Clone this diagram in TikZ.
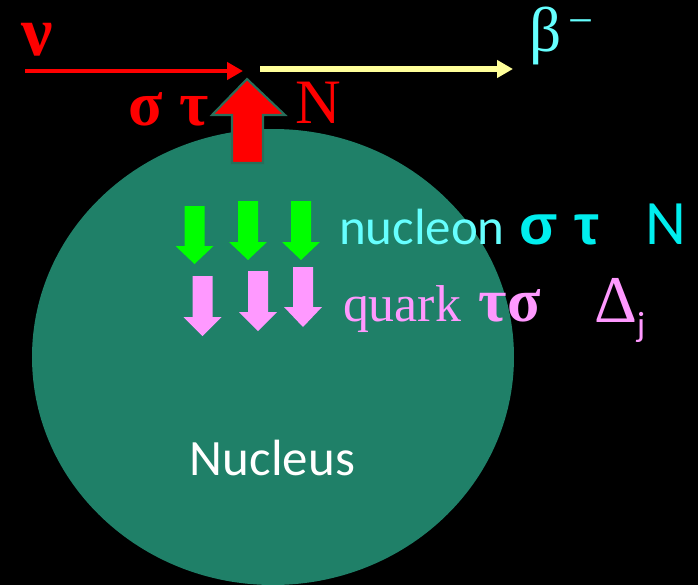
\documentclass[tikz,border=0pt]{standalone}
\usepackage{fontspec}
\setmainfont{Carlito}
\newfontfamily\timesgr{Liberation Serif}
\newfontfamily\arialgr{Liberation Sans}
\usepackage{xcolor}
\usepackage{tikz}
\usetikzlibrary{arrows.meta, positioning}

\definecolor{nucleusgreen}{RGB}{31,128,104}
\definecolor{rimgreen}{RGB}{40,110,90}
\definecolor{betayellow}{RGB}{255,255,153}
\definecolor{lightcyan}{RGB}{102,255,255}
\definecolor{deepcyan}{RGB}{0,238,238}
\definecolor{quarkpink}{RGB}{255,153,255}
\definecolor{spingreen}{RGB}{0,255,0}

\tikzset{
	lbl/.style={inner sep=0pt, outer sep=0pt, anchor=base west},
	nuline/.style={red, line width=2.8pt, -{Triangle[length=9pt, width=9.6pt]}},
	betaline/.style={betayellow, line width=3.4pt, -{Triangle[length=9pt, width=9.6pt]}}
}

% down block arrow: colour, centre x, top y, head y, tip y
\newcommand{\spindown}[5]{%
	\fill[#1] ({#2-10},#3) -- ({#2+10},#3) -- ({#2+10},#4) -- ({#2+19},#4) -- (#2,#5)
		-- ({#2-19},#4) -- ({#2-10},#4) -- cycle;}

\begin{document}
\begin{tikzpicture}[x=0.02cm, y=-0.02cm]
		% Background and nucleus:
		\fill[black] (0,0) rectangle (698,585);
		\useasboundingbox (0,0) rectangle (698,585);
		\fill[nucleusgreen] (273,357) ellipse [x radius=241, y radius=228];
		\node[lbl, white] (nucleus) at (190,475){\fontsize{29}{33}\selectfont Nucleus};

		% Incoming neutrino and outgoing electron:
		\coordinate (nu-start) at (25,71);
		\coordinate (vertex-in) at (243,71);
		\coordinate (beta-start) at (260,69);
		\coordinate (beta-end) at (513,69);
		\draw[nuline] (nu-start) -- (vertex-in);
		\draw[betaline] (beta-start) -- (beta-end);
		\node[lbl, red] (nu) at (22,55){\fontsize{40}{44}\selectfont\timesgr\bfseries ν};
		\node[lbl, lightcyan] (beta) at (529,51){\fontsize{36}{40}\selectfont\timesgr β\textsuperscript{\,−}};

		% Transfer to the nucleus:
		\filldraw[fill=red, draw=rimgreen, line width=1.2pt] (232,163) -- (232,115) -- (212,115)
			-- (247,79) -- (285,115) -- (263,115) -- (263,163) -- cycle;
		\node[lbl, red] (st-red) at (129,125){\fontsize{36}{40}\selectfont\timesgr\bfseries σ τ};
		\node[lbl, red] (n-red) at (296,123){\fontsize{36}{40}\selectfont\timesgr N};

		% Nucleon spins:
		\spindown{spingreen}{194.5}{206}{246}{264}
		\spindown{spingreen}{248}{201}{242}{260}
		\spindown{spingreen}{301}{201}{242}{260}
		\node[lbl, lightcyan] (nucleon) at (339,244){\fontsize{29}{33}\selectfont nucleon};
		\node[lbl, deepcyan] (st-cyan) at (520,244){\fontsize{32}{36}\selectfont\arialgr\bfseries σ τ};
		\node[lbl, deepcyan] (n-cyan) at (645,244){\fontsize{36}{40}\selectfont N};

		% Quark spins:
		\spindown{quarkpink}{202.5}{276}{317}{336}
		\spindown{quarkpink}{258}{271}{312}{331}
		\spindown{quarkpink}{303}{267}{307}{327}
		\node[lbl, quarkpink] (quark) at (343,321){\fontsize{29.5}{33}\selectfont\timesgr quark};
		\node[lbl, quarkpink] (ts-pink) at (479,321){\fontsize{35}{40}\selectfont\timesgr\bfseries τσ};
		\node[lbl, quarkpink] (delta) at (594,322){\fontsize{38}{42}\selectfont\timesgr Δ};
		\node[lbl, quarkpink] (delta-j) at (637,336){\fontsize{20}{24}\selectfont j};
\end{tikzpicture}
\end{document}
